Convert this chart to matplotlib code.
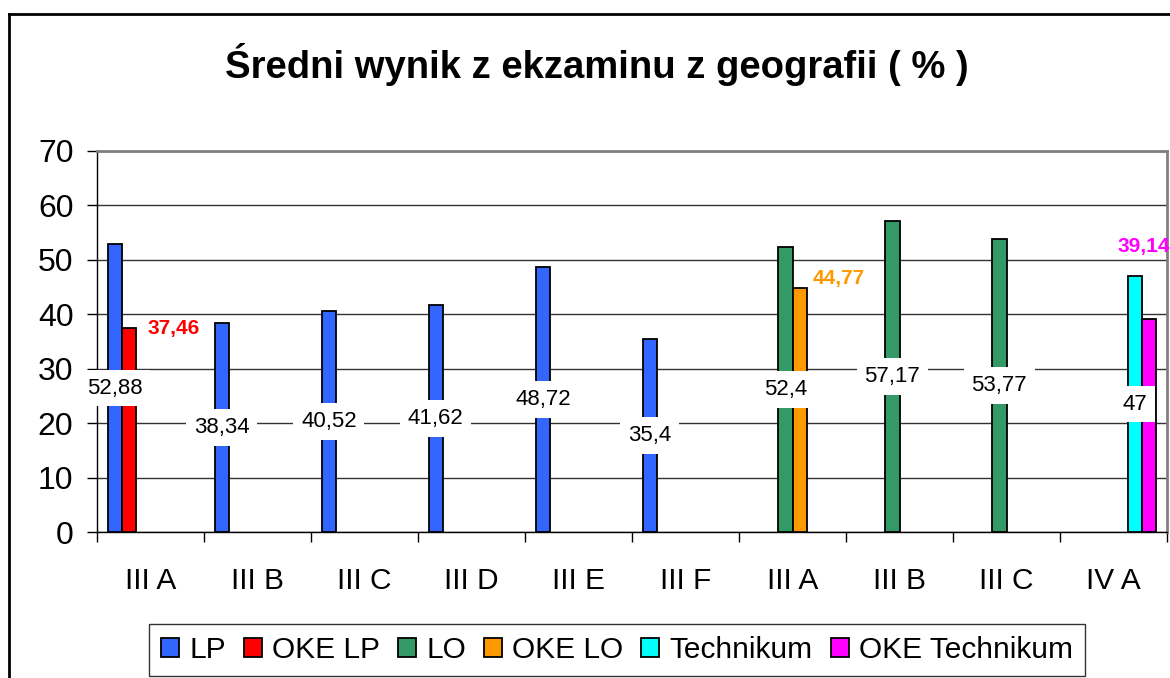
import numpy as np
import matplotlib
matplotlib.use("Agg")
import matplotlib.pyplot as plt
from matplotlib.lines import Line2D
from matplotlib.patches import Patch

plt.rcParams["font.family"] = ["Liberation Sans", "DejaVu Sans"]

# data
categories = ["III A", "III B", "III C", "III D", "III E", "III F",
              "III A", "III B", "III C", "IV A"]
nan = np.nan
lp = [52.88, 38.34, 40.52, 41.62, 48.72, 35.4, nan, nan, nan, nan]
oke_lp = [37.46, nan, nan, nan, nan, nan, nan, nan, nan, nan]
lo = [nan, nan, nan, nan, nan, nan, 52.4, 57.17, 53.77, nan]
oke_lo = [nan, nan, nan, nan, nan, nan, 44.77, nan, nan, nan]
technikum = [nan, nan, nan, nan, nan, nan, nan, nan, nan, 47]
oke_technikum = [nan, nan, nan, nan, nan, nan, nan, nan, nan, 39.14]

series_names = ["LP", "OKE LP", "LO", "OKE LO", "Technikum", "OKE Technikum"]
series_values = [lp, oke_lp, lo, oke_lo, technikum, oke_technikum]
colors = ["#3366FF", "#FF0000", "#339966", "#FF9900", "#00FFFF", "#FF00FF"]


def fmt(v):
    # polish decimal comma
    return f"{v:g}".replace(".", ",")


fig = plt.figure(figsize=(11.7, 6.78), dpi=100)
ax = fig.add_axes([97 / 1170, 1 - 532 / 678, 1070 / 1170, 381 / 678])

x = np.arange(len(categories))
n = len(series_names)
width = 0.8 / n

bars = []
for i, (name, vals, c) in enumerate(zip(series_names, series_values, colors)):
    pos = x - 0.4 + width * (i + 0.5)
    b = ax.bar(pos, vals, width, color=c, edgecolor="black", linewidth=1.3,
               zorder=3, label=name)
    bars.append(b)

# white-boxed labels in the middle of the main bars
for i in [0, 2, 4]:
    for rect, v in zip(bars[i], series_values[i]):
        if np.isnan(v):
            continue
        ax.text(rect.get_x() + rect.get_width() / 2, v / 2, fmt(v),
                ha="center", va="center", fontsize=16, zorder=5,
                bbox=dict(boxstyle="square,pad=0.35", fc="white", ec="none"))

# bold coloured labels for the OKE bars (placed by hand in the original)
oke_offsets = {1: (8, 0), 3: (4, 7), 5: (-28, 52)}
for i, (dx, dy) in oke_offsets.items():
    for rect, v in zip(bars[i], series_values[i]):
        if np.isnan(v):
            continue
        ax.annotate(fmt(v), (rect.get_x() + rect.get_width(), v),
                    xytext=(dx, dy), textcoords="offset points",
                    ha="left", va="center", fontsize=15, fontweight="bold",
                    color=colors[i], zorder=6, annotation_clip=False)

ax.set_xlim(-0.5, len(categories) - 0.5)
ax.set_ylim(0, 70)
ax.set_yticks(range(0, 71, 10))
ax.yaxis.grid(True, color="#333333", linewidth=1.0, zorder=0)
ax.set_axisbelow(True)

ax.set_xticks(x)
ax.set_xticklabels(categories)
ax.set_xticks(np.arange(-0.5, len(categories)), minor=True)
ax.tick_params(axis="x", which="major", length=0, pad=25, labelsize=21.5)
ax.tick_params(axis="x", which="minor", length=7, width=1, direction="out")
ax.tick_params(axis="y", length=7, width=1, direction="out", pad=10,
               labelsize=23)

for side in ["left", "bottom"]:
    ax.spines[side].set_color("black")
    ax.spines[side].set_linewidth(1)
for side in ["top", "right"]:
    ax.spines[side].set_color("#808080")
    ax.spines[side].set_linewidth(2)

fig.text(597 / 1170, 1 - 65 / 678, "Średni wynik z ekzaminu z geografii ( % )",
         ha="center", va="center", fontsize=27.5, fontweight="bold")

handles = [Patch(facecolor=c, edgecolor="black", linewidth=1.3) for c in colors]
leg = fig.legend(handles, series_names, loc="upper center", ncol=6,
                 bbox_to_anchor=(617 / 1170, 1 - 624 / 678), fontsize=21.5,
                 frameon=True, fancybox=False, handlelength=0.6,
                 handleheight=0.6, handletextpad=0.35, columnspacing=0.6,
                 borderpad=0.4, borderaxespad=0)
leg.get_frame().set_edgecolor("black")
leg.get_frame().set_linewidth(1)

# outer chart border (left and top visible in the crop)
fig.add_artist(Line2D([9 / 1170, 9 / 1170], [0, 1 - 14 / 678],
                      transform=fig.transFigure, color="black", linewidth=2))
fig.add_artist(Line2D([9 / 1170, 1], [1 - 14 / 678, 1 - 14 / 678],
                      transform=fig.transFigure, color="black", linewidth=2))

fig.savefig("out.png", dpi=100)
